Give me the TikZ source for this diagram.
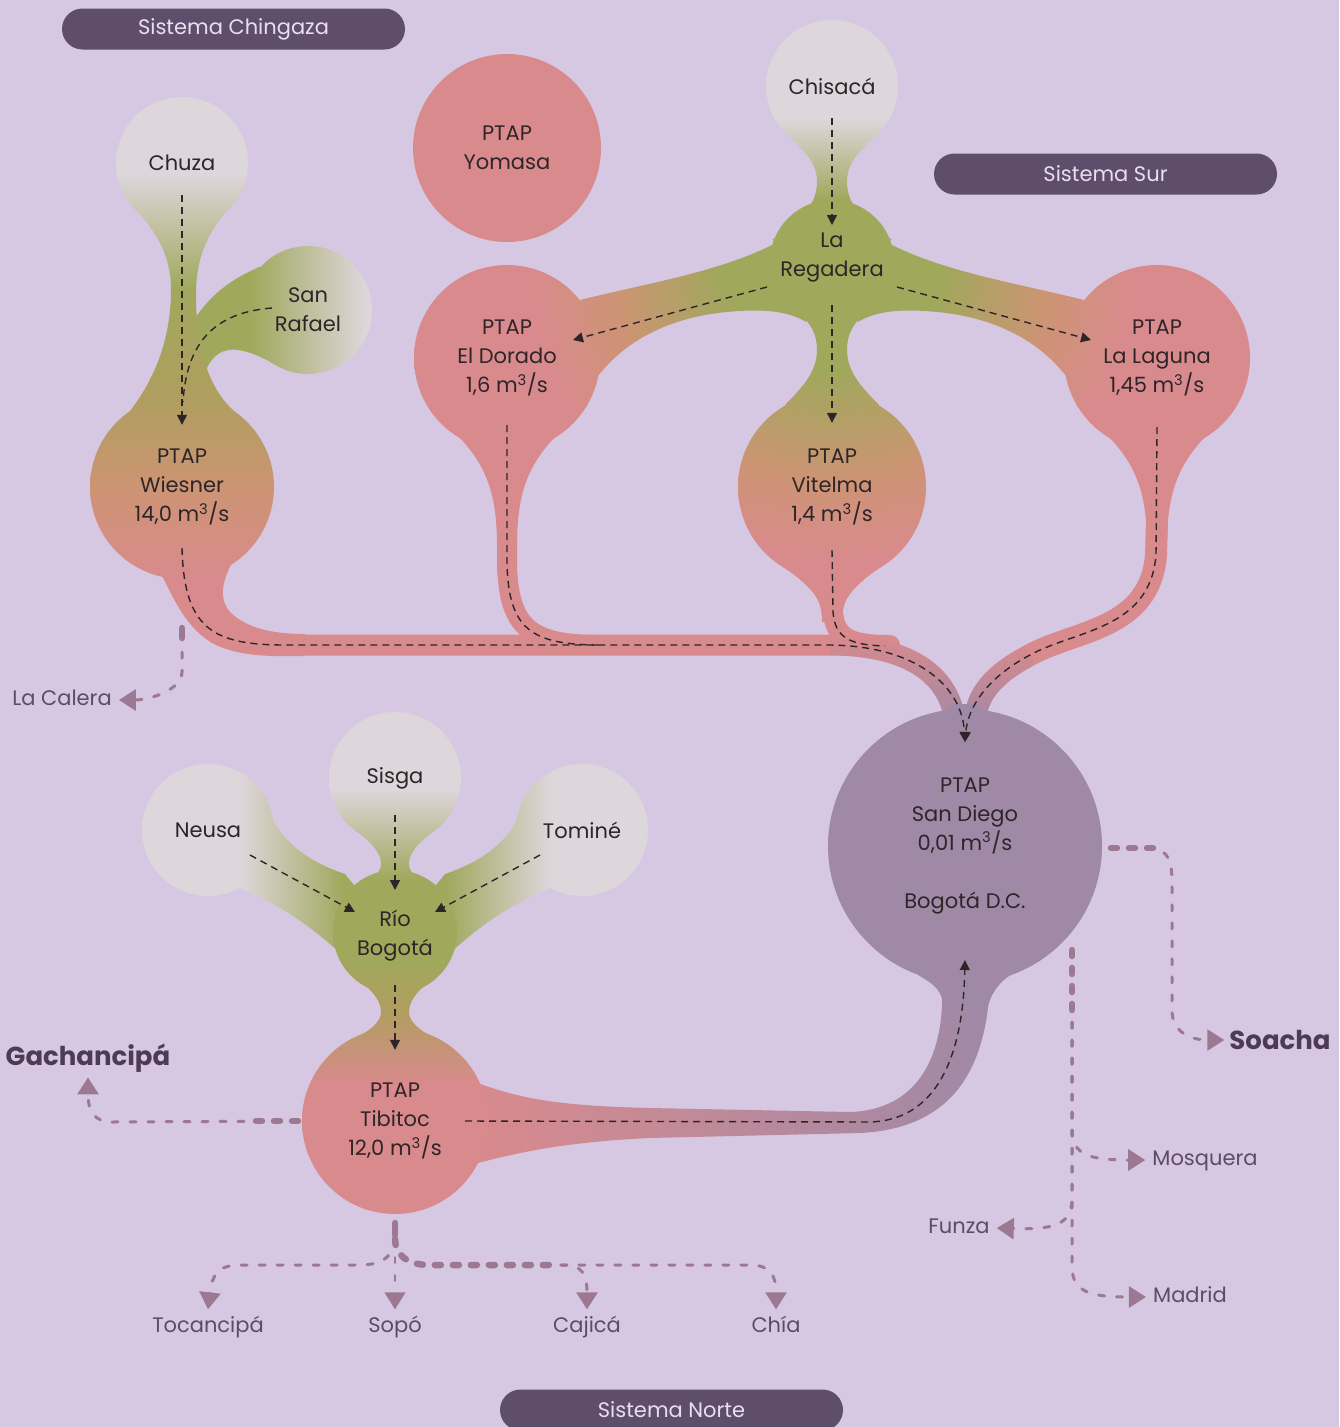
\documentclass[tikz,border=0pt]{standalone}
\usepackage{fontspec}
\setmainfont{Poppins}
\usetikzlibrary{arrows.meta, fadings}

\definecolor{fondo}{HTML}{D6C8E2}
\definecolor{pildora}{HTML}{5F4D6C}
\definecolor{piltexto}{HTML}{E8DFF0}
\definecolor{tinta}{HTML}{2E2529}
\definecolor{morado}{HTML}{5E4B66}
\definecolor{moradoosc}{HTML}{4D3A55}
\definecolor{malva}{HTML}{9C7892}
\definecolor{spale}{HTML}{DDD6DA}
\definecolor{sgreen}{HTML}{A0A85C}
\definecolor{socre}{HTML}{B09E60}
\definecolor{stan}{HTML}{CD9474}
\definecolor{rosa}{HTML}{D98A8D}
\definecolor{sdmorado}{HTML}{A089A6}

\newcommand{\etiq}{\fontsize{21}{29}\selectfont}
\newcommand{\etiqg}{\fontsize{26}{32}\selectfont\bfseries}

% colour ramps of the three systems
\pgfdeclareverticalshading{chingashade}{300pt}{color(0pt)=(rosa); color(120pt)=(rosa); color(210pt)=(stan); color(300pt)=(socre); color(410pt)=(sgreen); color(525pt)=(spale); color(615pt)=(spale)}
\pgfdeclarehorizontalshading{rafaelshade}{220pt}{color(0pt)=(sgreen); color(70pt)=(sgreen); color(185pt)=(spale); color(200pt)=(spale)}
\pgfdeclareverticalshading{chisashade}{200pt}{color(0pt)=(sgreen); color(70pt)=(sgreen); color(150pt)=(spale); color(260pt)=(spale)}
\pgfdeclareradialshading{surshade}{\pgfpoint{0pt}{0pt}}{color(0pt)=(sgreen); color(110pt)=(sgreen); color(220pt)=(stan); color(300pt)=(rosa); color(480pt)=(rosa)}
\pgfdeclareverticalshading{norteshade}{300pt}{color(0pt)=(rosa); color(145pt)=(rosa); color(220pt)=(socre); color(270pt)=(sgreen); color(350pt)=(sgreen); color(440pt)=(spale); color(530pt)=(spale)}
\pgfdeclarehorizontalshading{neusashade}{260pt}{color(0pt)=(spale); color(105pt)=(spale); color(210pt)=(sgreen); color(260pt)=(sgreen)}
\pgfdeclarehorizontalshading{tominshade}{260pt}{color(0pt)=(sgreen); color(50pt)=(sgreen); color(155pt)=(spale); color(260pt)=(spale)}

\tikzfading[name=hacia abajo, top color=transparent!100, bottom color=transparent!0]

\pgfdeclarelayer{capafondo}
\pgfdeclarelayer{manchas}
\pgfsetlayers{capafondo,manchas,main}

\begin{document}
\begin{tikzpicture}[x=1pt, y=-1pt,
    plant/.style={circle, minimum size=#1, inner sep=0pt, align=center, text=tinta, font=\etiq},
    pill/.style={rectangle, rounded corners=20.5pt, fill=pildora, text=piltexto, minimum width=343pt, minimum height=41pt, font=\etiq},
    destino/.style={text=morado, font=\etiq, inner sep=7pt, text height=16pt, text depth=5pt},
    destinog/.style={text=moradoosc, font=\etiqg, inner sep=5pt},
    flujo/.style={draw=tinta, line width=1.4pt, dash pattern=on 7pt off 5pt, -{Triangle[length=10pt,width=10pt]}},
    afluente/.style={draw=tinta, line width=1.4pt, dash pattern=on 7pt off 5pt},
    reparto/.style={draw=malva, line width=3pt, line cap=round, dash pattern=on 6pt off 12pt, -{Triangle[length=17pt,width=21pt]}},
    grueso/.style={draw=malva, line width=6.5pt, line cap=round, dash pattern=on 6pt off 12pt},
    tubo/.style={draw=rosa, line width=#1, line cap=round},
    tchinga/.style={path picture={\node[inner sep=0pt, anchor=south] at (182,700) {\pgfuseshading{chingashade}};}},
    trafael/.style={path picture={\node[inner sep=0pt, anchor=west] at (180,310) {\pgfuseshading{rafaelshade}};}},
    tchisaca/.style={path picture={\node[inner sep=0pt, anchor=south] at (832,270) {\pgfuseshading{chisashade}};}},
    tsur/.style={path picture={\node[inner sep=0pt] at (832,262) {\pgfuseshading{surshade}};}},
    tnorte/.style={path picture={\node[inner sep=0pt, anchor=south] at (395,1230) {\pgfuseshading{norteshade}};}},
    tneusa/.style={path picture={\node[inner sep=0pt, anchor=west] at (135,850) {\pgfuseshading{neusashade}};}},
    ttomine/.style={path picture={\node[inner sep=0pt, anchor=west] at (395,850) {\pgfuseshading{tominshade}};}}
  ]
  \useasboundingbox (0,0) rectangle (1339,1427);

  % systems
  \node[pill] (chingaza) at (233.5,29) {Sistema Chingaza};
  \node[pill] (sur) at (1105.5,174) {Sistema Sur};
  \node[pill] (norte) at (671.5,1410) {Sistema Norte};

  % sources and plants
  \node[plant=132pt] (chuza) at (182,163) {Chuza};
  \node[plant=128pt] (sanrafael) at (308,310) {San\\Rafael};
  \node[plant=184pt] (wiesner) at (182,487) {PTAP\\Wiesner\\14,0 m\textsuperscript{3}/s};
  \node[plant=188pt] (yomasa) at (507,148) {PTAP\\Yomasa};
  \node[plant=132pt] (chisaca) at (832,86) {Chisacá};
  \node[plant=120pt] (regadera) at (832,258) {La\\Regadera};
  \node[plant=186pt] (eldorado) at (507,358) {PTAP\\El Dorado\\1,6 m\textsuperscript{3}/s};
  \node[plant=188pt] (vitelma) at (832,487) {PTAP\\Vitelma\\1,4 m\textsuperscript{3}/s};
  \node[plant=186pt] (laguna) at (1157,358) {PTAP\\La Laguna\\1,45 m\textsuperscript{3}/s};
  \node[plant=274pt] (sandiego) at (965,846) {PTAP\\San Diego\\0,01 m\textsuperscript{3}/s\\[29pt]Bogotá D.C.};
  \node[plant=132pt] (sisga) at (395,778) {Sisga};
  \node[plant=132pt] (neusa) at (208,830) {Neusa};
  \node[plant=132pt] (tomine) at (582,830) {Tominé};
  \node[plant=124pt] (rio) at (395,936) {Río\\Bogotá};
  \node[plant=186pt] (tibitoc) at (395,1121) {PTAP\\Tibitoc\\12,0 m\textsuperscript{3}/s};

  % municipalities
  \node[destino] (lacalera) at (62,700) {La Calera};
  \node[destinog] (gachancipa) at (88,1058) {Gachancipá};
  \node[destino] (tocancipa) at (208,1327) {Tocancipá};
  \node[destino] (sopo) at (395,1327) {Sopó};
  \node[destino] (cajica) at (587,1327) {Cajicá};
  \node[destino] (chia) at (776,1327) {Chía};
  \node[destinog] (soacha) at (1280,1040) {Soacha};
  \node[destino] (mosquera) at (1205,1160) {Mosquera};
  \node[destino] (funza) at (959,1228) {Funza};
  \node[destino] (madrid) at (1190,1297) {Madrid};

  \begin{pgfonlayer}{capafondo}
    \fill[fondo] (0,0) rectangle (1339,1427);
  \end{pgfonlayer}

  \begin{pgfonlayer}{manchas}
    % Chingaza
    \path[trafael] (sanrafael) circle[radius=64];
    \path[trafael] (194,320) .. controls (210,295) and (232,278) .. (262,266) -- (sanrafael.center) -- (276,365) .. controls (240,345) and (215,340) .. (203,378) -- cycle;
    \path[tchinga] (chuza) circle[radius=66];
    \path[tchinga] (140,214) .. controls (162,240) and (171,262) .. (171,290) .. controls (171,330) and (160,372) .. (130,411) -- (wiesner.center) -- (234,411) .. controls (205,385) and (196,340) .. (196,295) .. controls (196,262) and (204,240) .. (224,214) -- (chuza.center) -- cycle;
    \path[tchinga] (wiesner) circle[radius=92];
    \path[tchinga] (150,555) .. controls (170,585) and (178,622) .. (212,643) .. controls (235,655) and (262,657) .. (305,656) -- (305,634) .. controls (272,634) and (247,628) .. (231,613) .. controls (219,600) and (220,582) .. (236,556) -- cycle;

    % pipes towards San Diego
    \draw[tubo=21pt] (298,645) -- (830,645) .. controls (905,645) and (948,672) .. (955,720);
    \draw[tubo=20pt] (507,520) -- (507,565) .. controls (509,628) and (530,645) .. (600,645);
    \draw[tubo=20pt] (832,600) -- (833,612) .. controls (835,638) and (850,645) .. (890,645);
    \draw[tubo=22pt] (1157,520) -- (1156,555) .. controls (1150,630) and (1075,630) .. (1030,655) .. controls (992,675) and (977,695) .. (975,720);
    \draw[draw=sdmorado, line width=21pt, path fading=hacia abajo] (830,645) .. controls (905,645) and (948,672) .. (955,720);
    \draw[draw=sdmorado, line width=22pt, path fading=hacia abajo] (1030,655) .. controls (992,675) and (977,695) .. (975,720);

    % Sur
    \path[tchisaca] (chisaca) circle[radius=66];
    \path[tchisaca] (790,137) .. controls (812,158) and (817,168) .. (817,182) .. controls (817,205) and (800,222) .. (772,240) -- (regadera.center) -- (892,240) .. controls (864,222) and (847,205) .. (847,182) .. controls (847,168) and (852,158) .. (874,137) -- (chisaca.center) -- cycle;
    \path[tsur] (832,262) circle[radius=62];
    \path[tsur] (782,240) .. controls (722,272) and (652,282) .. (580,300) -- (eldorado.center) -- (598,376) .. controls (630,335) and (680,314) .. (740,311) .. controls (770,309) and (792,313) .. (806,322) -- (832,262) -- cycle;
    \path[tsur] (882,240) .. controls (942,272) and (1012,282) .. (1084,300) -- (laguna.center) -- (1066,376) .. controls (1034,335) and (984,314) .. (924,311) .. controls (894,309) and (872,313) .. (858,322) -- (832,262) -- cycle;
    \path[tsur] (790,305) .. controls (812,322) and (817,335) .. (817,350) .. controls (817,370) and (805,385) .. (785,405) -- (vitelma.center) -- (879,405) .. controls (859,385) and (847,370) .. (847,350) .. controls (847,335) and (852,322) .. (874,305) -- (832,262) -- cycle;
    \path[tsur] (eldorado) circle[radius=93];
    \path[tsur] (vitelma) circle[radius=94];
    \path[tsur] (laguna) circle[radius=93];
    \path[tsur] (460,438) .. controls (490,470) and (496,500) .. (497,540) -- (517,540) .. controls (518,500) and (524,470) .. (554,438) -- cycle;
    \path[tsur] (785,568) .. controls (815,590) and (822,600) .. (822,622) -- (842,622) .. controls (842,600) and (849,590) .. (879,568) -- cycle;
    \path[tsur] (1110,438) .. controls (1140,470) and (1146,500) .. (1147,540) -- (1167,540) .. controls (1168,500) and (1174,470) .. (1204,438) -- cycle;
    \fill[rosa] (yomasa) circle[radius=94];

    % San Diego
    \shade[left color=rosa, middle color=rosa, right color=sdmorado] (470,1080) .. controls (520,1100) and (565,1106) .. (650,1108) -- (850,1112) .. controls (915,1110) and (945,1060) .. (942,985) -- (990,985) .. controls (986,1060) and (960,1128) .. (860,1133) -- (650,1138) .. controls (565,1142) and (520,1152) .. (470,1165) -- cycle;
    \fill[sdmorado] (sandiego) circle[radius=137];
    \fill[sdmorado] (922,725) .. controls (943,717) and (950,712) .. (952,704) -- (978,704) .. controls (981,712) and (988,717) .. (1008,725) -- cycle;
    \fill[sdmorado] (918,975) .. controls (936,985) and (942,992) .. (943,1005) -- (987,1010) .. controls (990,995) and (998,982) .. (1015,972) -- cycle;

    % Norte
    \path[tneusa] (neusa) circle[radius=66];
    \path[tneusa] (270,815) .. controls (285,845) and (310,862) .. (345,874) -- (rio.center) -- (342,955) .. controls (310,925) and (280,905) .. (240,888) -- (neusa.center) -- cycle;
    \path[ttomine] (tomine) circle[radius=66];
    \path[ttomine] (520,815) .. controls (505,845) and (480,862) .. (445,874) -- (rio.center) -- (448,955) .. controls (480,925) and (510,905) .. (550,888) -- (tomine.center) -- cycle;
    \path[tnorte] (sisga) circle[radius=66];
    \path[tnorte] (353,828) .. controls (376,846) and (381,855) .. (381,864) .. controls (381,874) and (370,882) .. (348,893) -- (rio.center) -- (442,893) .. controls (420,882) and (409,874) .. (409,864) .. controls (409,855) and (414,846) .. (437,828) -- (sisga.center) -- cycle;
    \path[tnorte] (395,932) circle[radius=62];
    \path[tnorte] (352,975) .. controls (376,992) and (381,1003) .. (381,1012) .. controls (381,1022) and (370,1032) .. (345,1043) -- (tibitoc.center) -- (445,1043) .. controls (420,1032) and (409,1022) .. (409,1012) .. controls (409,1003) and (414,992) .. (438,975) -- (395,932) -- cycle;
    \path[tnorte] (tibitoc) circle[radius=93];
  \end{pgfonlayer}

  % water flow
  \coordinate (cruce) at (183,402);
  \coordinate (unionD) at (600,645);
  \coordinate (unionV) at (885,646);
  \draw[flujo] ([yshift=-32pt]chuza.center) -- ([yshift=-30pt]wiesner.north);
  \draw[afluente] ([shift={(-36pt,2pt)}]sanrafael.center) .. controls (222,312) and (187,335) .. (cruce);
  \draw[flujo] ([yshift=-32pt]chisaca.center) -- ([yshift=33pt]regadera.center);
  \draw[flujo] ([shift={(-65pt,-29pt)}]regadera.center) -- ([shift={(66pt,18pt)}]eldorado.center);
  \draw[flujo] ([shift={(65pt,-29pt)}]regadera.center) -- ([shift={(-66pt,18pt)}]laguna.center);
  \draw[flujo] ([yshift=-47pt]regadera.center) -- ([yshift=-30pt]vitelma.north);
  \draw[flujo] ([yshift=-61pt]wiesner.center) .. controls (184,628) and (212,645) .. (285,645) -- (830,645) .. controls (915,646) and (962,685) .. ([yshift=104pt]sandiego.center);
  \draw[afluente] ([yshift=-67pt]eldorado.center) -- (507,565) .. controls (509,628) and (530,645) .. (unionD);
  \draw[afluente] ([yshift=-63pt]vitelma.center) -- (833,612) .. controls (835,638) and (850,645) .. (unionV);
  \draw[flujo] ([yshift=-69pt]laguna.center) -- (1156,555) .. controls (1150,630) and (1075,630) .. (1030,655) .. controls (990,676) and (968,705) .. ([yshift=104pt]sandiego.center);
  \draw[flujo] ([yshift=-37pt]sisga.center) -- ([yshift=46pt]rio.center);
  \draw[flujo] ([shift={(42pt,-25pt)}]neusa.center) -- ([shift={(-40pt,24pt)}]rio.center);
  \draw[flujo] ([shift={(-42pt,-25pt)}]tomine.center) -- ([shift={(40pt,24pt)}]rio.center);
  \draw[flujo] ([yshift=-49pt]rio.center) -- ([yshift=-22pt]tibitoc.north);
  \draw[flujo] ([xshift=70pt]tibitoc.center) -- (870,1122) .. controls (935,1120) and (963,1060) .. ([yshift=-114pt]sandiego.center);

  % supply to municipalities
  \draw[grueso, solid] ([yshift=-141pt]wiesner.center) -- ++(0,10);
  \draw[reparto] ([yshift=-165pt]wiesner.center) -- ++(0,20) .. controls +(0,18) and +(30,0) .. (lacalera.east);

  \draw[grueso] ([xshift=-97pt]tibitoc.center) -- ++(-45,0);
  \draw[reparto] ([xshift=-97pt]tibitoc.center) -- (112,1122) .. controls (95,1122) and (88,1112) .. (gachancipa.south);

  \draw[grueso, solid] ([yshift=-102pt]tibitoc.center) -- ++(0,12);
  \draw[reparto] ([yshift=-118pt]tibitoc.center) .. controls +(0,14) and +(25,0) .. (360,1265) -- (240,1265) .. controls (218,1265) and (212,1275) .. (tocancipa.north);
  \draw[reparto, line width=1.5pt] ([yshift=-118pt]tibitoc.center) -- (sopo.north);
  \draw[reparto] ([yshift=-118pt]tibitoc.center) .. controls +(0,14) and +(-25,0) .. (430,1265) -- (565,1265) .. controls (582,1265) and (587,1275) .. (cajica.north);
  \draw[reparto] ([yshift=-118pt]tibitoc.center) .. controls +(0,14) and +(-25,0) .. (430,1265) -- (750,1265) .. controls (770,1265) and (776,1275) .. (chia.north);
  \draw[grueso] ([yshift=-118pt]tibitoc.center) .. controls +(0,14) and +(-25,0) .. (430,1265) -- (560,1265);

  \draw[grueso] ([shift={(146pt,-2pt)}]sandiego.center) -- ++(45,0);
  \draw[reparto] ([shift={(146pt,-2pt)}]sandiego.center) -- (1150,848) .. controls (1170,850) and (1172,862) .. (1172,885) -- (1172,1010) .. controls (1172,1032) and (1190,1040) .. (soacha.west);

  \draw[grueso] ([shift={(107pt,-104pt)}]sandiego.center) -- ++(0,60);
  \draw[reparto] ([shift={(107pt,-104pt)}]sandiego.center) -- (1072,1132) .. controls (1073,1155) and (1090,1160) .. (mosquera.west);
  \draw[reparto] ([shift={(107pt,-104pt)}]sandiego.center) -- (1072,1200) .. controls (1071,1224) and (1055,1230) .. (funza.east);
  \draw[reparto] ([shift={(107pt,-104pt)}]sandiego.center) -- (1072,1268) .. controls (1073,1292) and (1090,1297) .. (madrid.west);
\end{tikzpicture}
\end{document}
